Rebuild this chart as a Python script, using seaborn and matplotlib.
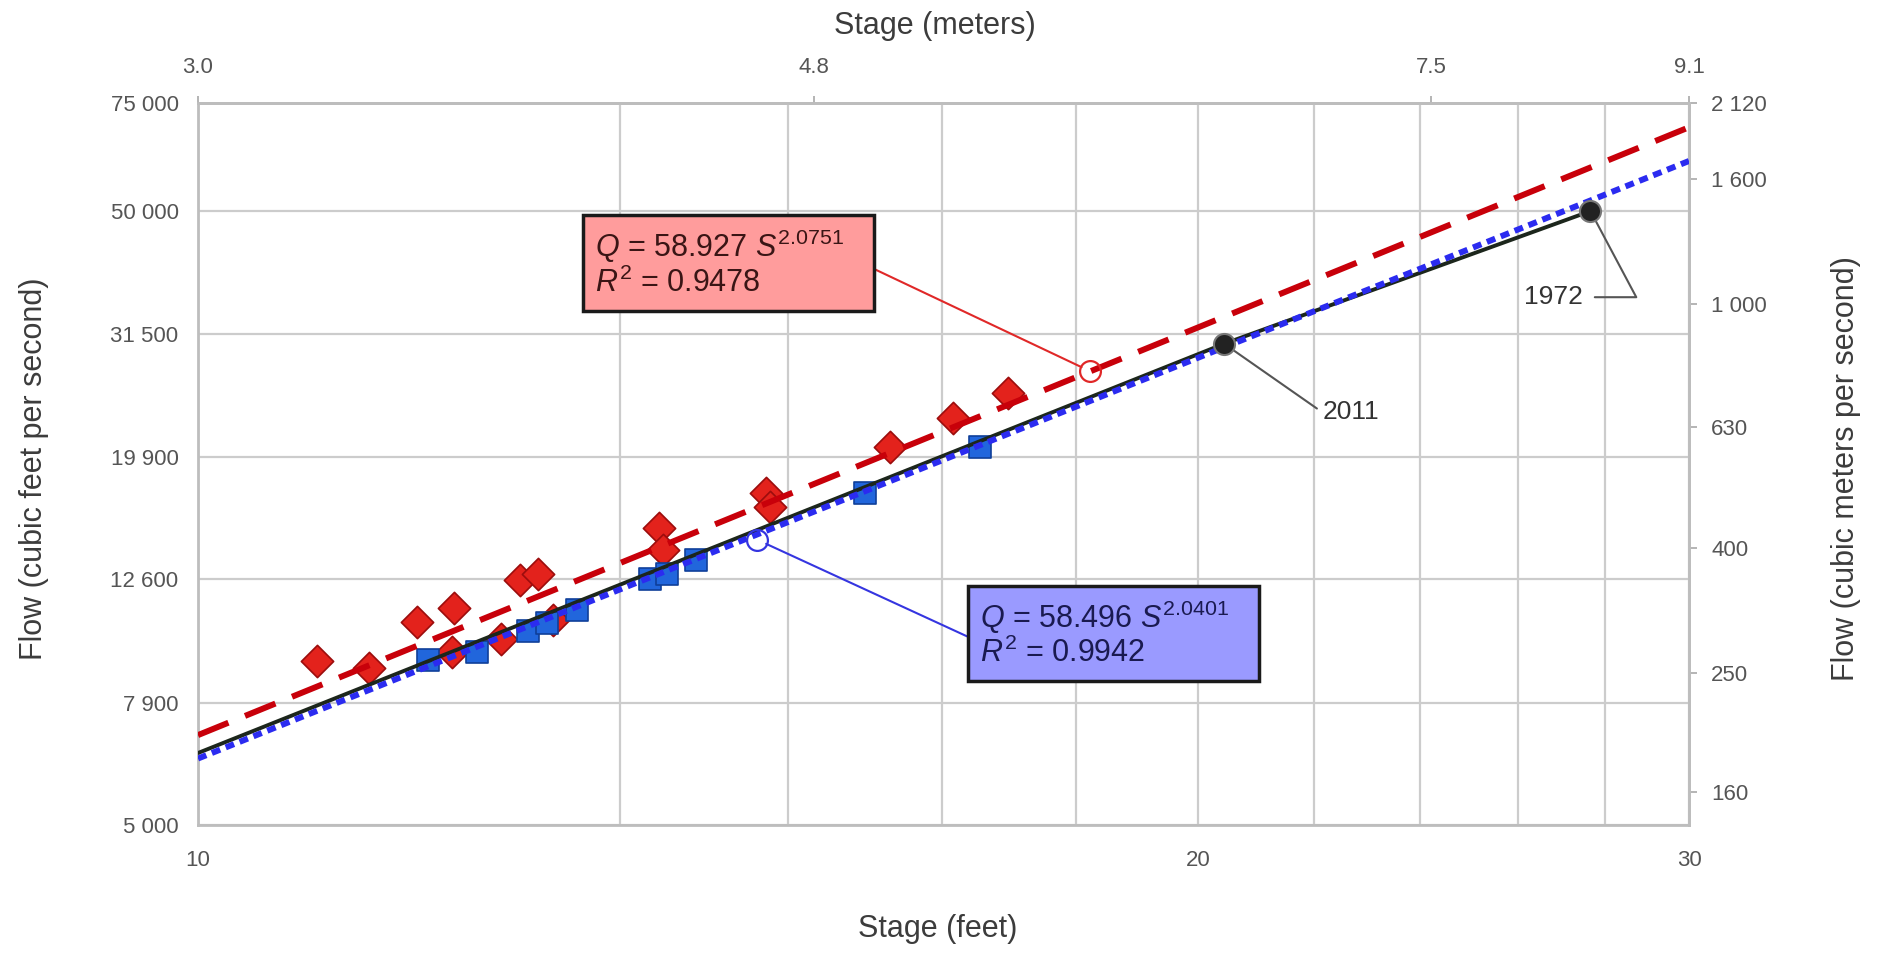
import numpy as np
import pandas as pd
import seaborn as sns
import matplotlib.pyplot as plt
from matplotlib.ticker import NullLocator, NullFormatter

# values: stage in feet, flow in cubic feet per second
red_stage = [10.92, 11.34, 11.75, 12.06, 12.08, 12.5, 12.68, 12.85, 12.99,
             14.04, 14.09, 15.2, 15.24, 16.65, 17.44, 18.17]
red_flow = [9260, 9010, 10690, 9560, 11290, 10040, 12550, 12800, 10790,
            15260, 14040, 17380, 16500, 20660, 23000, 25300]
blue_stage = [11.85, 12.28, 12.75, 12.93, 13.22, 13.95, 14.13, 14.43, 16.35, 17.79]
blue_flow = [9300, 9580, 10360, 10650, 11210, 12570, 12800, 13510, 17380, 20620]

# rating line through the 2011 and 1972 floods
rating_stage = [10, 21.3, 27.9]
rating_flow = [6550, 30400, 50000]
event_years = ["2011", "1972"]
event_stage = [21.3, 27.9]
event_flow = [30400, 50000]

# power-law fits Q = a * S^b shown in the boxes
red_fit = (58.927, 2.0751, 0.9478)
blue_fit = (58.496, 2.0401, 0.9942)
fit_stage = [10, 30]
callout_stage = [19.3, 15.1]   # red, blue

flow_ticks = [5000, 7900, 12600, 19900, 31500, 50000, 75000]
cms_ticks = [160, 250, 400, 630, 1000, 1600, 2120]
stage_ticks = [10, 20.9, 30]
stage_labels = ["10", "20", "30"]
stage_grid = [13.65, 15.45, 17.3, 19.1, 22.75, 24.6, 26.45, 28.2]
meter_ticks = [3.048, 4.8, 7.56, 9.144]
meter_labels = ["3.0", "4.8", "7.5", "9.1"]

sns.set_style("white")
plt.rcParams['font.family'] = ['Liberation Sans', 'DejaVu Sans']
plt.rcParams['mathtext.fontset'] = 'custom'
plt.rcParams['mathtext.rm'] = 'Liberation Sans'
plt.rcParams['mathtext.it'] = 'Liberation Sans:italic'

def space_thousands(v):
    return f"{v:,}".replace(",", " ")

fig = plt.figure(figsize=(18.81, 9.56), dpi=100)
ax = fig.add_axes([0.10526, 0.13703, 0.79266, 0.75523])
ax.set_xscale("log")
ax.set_yscale("log")
ax.set_xlim(10, 30)
ax.set_ylim(5000, 75000)

red_df = pd.DataFrame({"stage": red_stage, "flow": red_flow})
blue_df = pd.DataFrame({"stage": blue_stage, "flow": blue_flow})
sns.scatterplot(data=red_df, x="stage", y="flow", marker="D", s=270,
                color="#e3221c", edgecolor="#9c0d0d", linewidth=1.2, zorder=3, ax=ax)
sns.scatterplot(data=blue_df, x="stage", y="flow", marker="s", s=270,
                color="#2166dc", edgecolor="#0f3f99", linewidth=1.2, zorder=3, ax=ax)

# rating line and the two floods
sns.lineplot(x=rating_stage, y=rating_flow, color="#1c261c", lw=2.8,
             estimator=None, zorder=4, ax=ax)

red_line = [red_fit[0] * s ** red_fit[1] for s in fit_stage]
blue_line = [blue_fit[0] * s ** blue_fit[1] for s in fit_stage]
sns.lineplot(x=fit_stage, y=red_line, color="#c8000a", lw=4.3,
             linestyle=(0, (5.5, 3)), estimator=None, zorder=5, ax=ax)
sns.lineplot(x=fit_stage, y=blue_line, color="#2b2bf0", lw=4.3,
             linestyle=(0, (1.5, 1.0)), estimator=None, zorder=6, ax=ax)

sns.scatterplot(x=event_stage, y=event_flow, s=230, color="#222222",
                edgecolor="#777777", linewidth=1.5, zorder=7, ax=ax)

# callout boxes with equations
red_anchor = red_fit[0] * callout_stage[0] ** red_fit[1]
blue_anchor = blue_fit[0] * callout_stage[1] ** blue_fit[1] * 0.98
ax.plot([callout_stage[0]], [red_anchor], marker="o", ms=15, mfc="none",
        mec="#e02828", mew=1.6, zorder=8)
ax.plot([callout_stage[1]], [blue_anchor], marker="o", ms=15, mfc="none",
        mec="#3535e0", mew=1.6, zorder=8)

red_text = (f"$Q$ = {red_fit[0]} $S^{{\\mathrm{{{red_fit[1]}}}}}$   \n"
            f"$R^{{\\mathrm{{2}}}}$ = {red_fit[2]}")
blue_text = (f"$Q$ = {blue_fit[0]} $S^{{\\mathrm{{{blue_fit[1]}}}}}$   \n"
             f"$R^{{\\mathrm{{2}}}}$ = {blue_fit[2]}")
ax.annotate(red_text, xy=(callout_stage[0], red_anchor), xytext=(0.266, 0.827),
            textcoords="axes fraction", ha="left", va="top", fontsize=22,
            color="#3a1515", linespacing=1.1, zorder=9,
            bbox=dict(boxstyle="square,pad=0.38", fc="#ff9c9c", ec="#1a1a1a", lw=2.5),
            arrowprops=dict(arrowstyle="-", color="#e02828", lw=1.5,
                            relpos=(1, 0.5), shrinkA=0, shrinkB=7))
ax.annotate(blue_text, xy=(callout_stage[1], blue_anchor), xytext=(0.5245, 0.314),
            textcoords="axes fraction", ha="left", va="top", fontsize=22,
            color="#1a1a50", linespacing=1.1, zorder=9,
            bbox=dict(boxstyle="square,pad=0.38", fc="#9a9aff", ec="#1a1a1a", lw=2.5),
            arrowprops=dict(arrowstyle="-", color="#3535e0", lw=1.5,
                            relpos=(0, 0.38), shrinkA=0, shrinkB=7))

# flood labels
ax.annotate(event_years[0], xy=(event_stage[0], event_flow[0]), xytext=(22.9, 23500),
            ha="left", va="center", fontsize=19, color="#333333",
            arrowprops=dict(arrowstyle="-", color="#555555", lw=1.5,
                            relpos=(0, 0.5), shrinkA=2, shrinkB=6))
ax.annotate(event_years[1], xy=(event_stage[1], event_flow[1]), xytext=(27.75, 36200),
            ha="right", va="center", fontsize=19, color="#333333",
            arrowprops=dict(arrowstyle="-", color="#555555", lw=1.5, relpos=(1, 0.5),
                            connectionstyle="angle,angleA=0,angleB=118,rad=0",
                            shrinkA=6, shrinkB=6))

# axes, ticks and grid
grid_kw = dict(color="#cccccc", lw=1.6)
ax.set_yticks(flow_ticks, labels=[space_thousands(v) for v in flow_ticks])
ax.yaxis.set_minor_locator(NullLocator())
ax.yaxis.set_minor_formatter(NullFormatter())
ax.set_xticks(stage_ticks, labels=stage_labels)
ax.set_xticks(stage_grid, minor=True)
ax.xaxis.set_minor_formatter(NullFormatter())
ax.grid(True, which="major", axis="both", **grid_kw)
ax.grid(True, which="minor", axis="x", **grid_kw)
ax.set_axisbelow(True)

tick_kw = dict(labelsize=16, labelcolor="#555555", color="#a8a8a8", width=1.2)
ax.tick_params(axis="y", which="major", direction="out", length=6, pad=8, **tick_kw)
ax.tick_params(axis="x", which="major", direction="out", length=5, pad=13, **tick_kw)
ax.tick_params(axis="x", which="minor", length=0)

for sp in ax.spines.values():
    sp.set_color("#bdbdbd")
    sp.set_linewidth(2)

label_kw = dict(fontsize=22, color="#3c3c3c")
ax.set_xlabel("Stage (feet)", **label_kw)
ax.set_ylabel("Flow (cubic feet per second)", **label_kw)
ax.xaxis.set_label_coords(0.496, -0.123)
ax.yaxis.set_label_coords(-0.1, 0.494)

secx = ax.secondary_xaxis("top", functions=(lambda s: s * 0.3048, lambda m: m / 0.3048))
secx.set_xticks(meter_ticks, labels=meter_labels)
secx.xaxis.set_minor_locator(NullLocator())
secx.tick_params(axis="x", which="major", direction="out", length=5, pad=13, **tick_kw)
secx.spines["top"].set_color("#bdbdbd")
secx.spines["top"].set_linewidth(2)
secx.set_xlabel("Stage (meters)", **label_kw)
secx.xaxis.set_label_coords(0.494, 1.096, transform=ax.transAxes)

secy = ax.secondary_yaxis("right", functions=(lambda q: q / 35.3147, lambda c: c * 35.3147))
secy.set_yticks(cms_ticks, labels=[space_thousands(v) for v in cms_ticks])
secy.yaxis.set_minor_locator(NullLocator())
secy.tick_params(axis="y", which="major", direction="out", length=6, pad=10, **tick_kw)
secy.spines["right"].set_color("#bdbdbd")
secy.spines["right"].set_linewidth(2)
secy.set_ylabel("Flow (cubic meters per second)", **label_kw)
secy.yaxis.set_label_coords(1.095, 0.494, transform=ax.transAxes)

fig.savefig("out.png", dpi=100)
